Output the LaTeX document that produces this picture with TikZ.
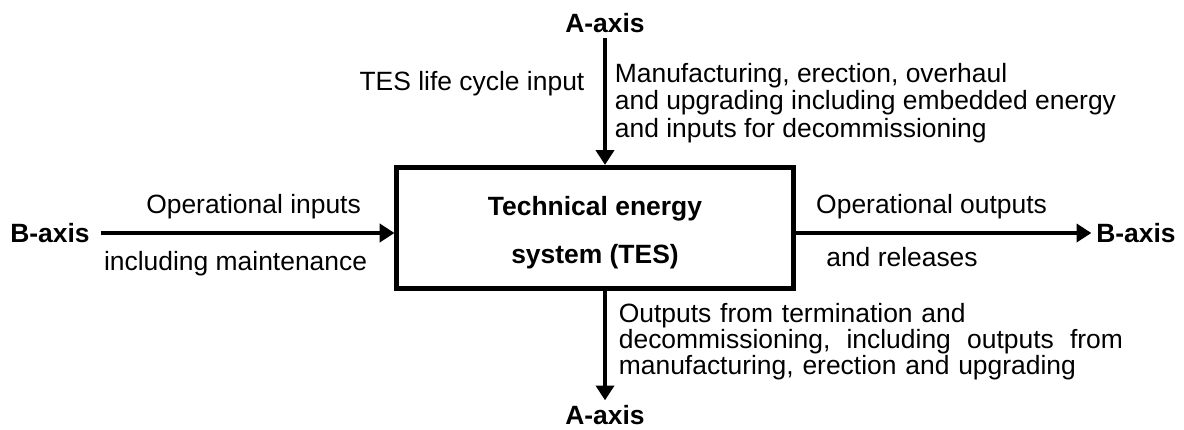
\documentclass[tikz,border=0pt]{standalone}
\usepackage{fontspec}
\setmainfont{Liberation Sans}
\usepackage{tikz}
\usetikzlibrary{
  arrows.meta,
  positioning
}
\tikzset{
  % System box: fixed size, bold text
  sysbox/.style={
    rectangle, draw=black, line width=3.5pt,
    minimum width=9.9cm, minimum height=3.03cm,
    align=center, font=\fontsize{18.8}{34}\selectfont\bfseries
  },
  % Axis label
  axislbl/.style={font=\fontsize{18.8}{22}\selectfont\bfseries},
  % Arrow
  arr/.style={
    -{Triangle[length=0.37cm,width=0.45cm]},
    line width=2.8pt, color=black
  },
  % Flow label
  lbl/.style={font=\fontsize{18.8}{#1}\selectfont, align=left},
  lbl/.default=19.5
}
\begin{document}
\begin{tikzpicture}[x=0.025cm, y=-0.025cm]
  \useasboundingbox (0,0) rectangle (1184,429);

  % Central system
  \node[sysbox] (tes) at (595,228) {\rule{0pt}{0.72cm}Technical energy\\system (TES)};

  % Axis ends
  \node[axislbl] (atop)   at (605,23)   {A-axis};
  \node[axislbl] (abot)   at (605,415)  {A-axis};
  \node[axislbl] (bleft)  at (50,233)   {B-axis};
  \node[axislbl] (bright) at (1136,233) {B-axis};

  % A-axis: life cycle input
  \draw[arr] (atop.south) -- (atop.south |- tes.north)
    node[lbl, pos=0.36, left=0.35cm] {TES life cycle input}
    node[lbl, pos=0.15, anchor=north west, xshift=0.08cm]
      {Manufacturing, erection, overhaul\\
       and upgrading including embedded energy\\
       and inputs for decommissioning};

  % A-axis: outputs
  \draw[arr] (tes.south -| abot) -- (abot.north)
    node[lbl=18.5, pos=0.05, anchor=north west, xshift=0.18cm, text width=12.6cm]
      {Outputs from termination and\\
       \makebox[12.6cm][s]{decommissioning, \hfill including \hfill outputs \hfill from}\\
       manufacturing, erection and upgrading};

  % B-axis: operational flows
  \draw[arr, shorten <=0.15cm] (bleft.east) -- (bleft.east -| tes.west)
    node[lbl, pos=0.53, above=0.18cm] {Operational inputs}
    node[lbl, pos=0.47, below=0.28cm] {including maintenance};
  \draw[arr] (tes.east |- bright) -- (bright.west)
    node[lbl, pos=0.46, above=0.18cm] {Operational outputs}
    node[lbl, pos=0.36, below=0.18cm] {and releases};

\end{tikzpicture}
\end{document}
